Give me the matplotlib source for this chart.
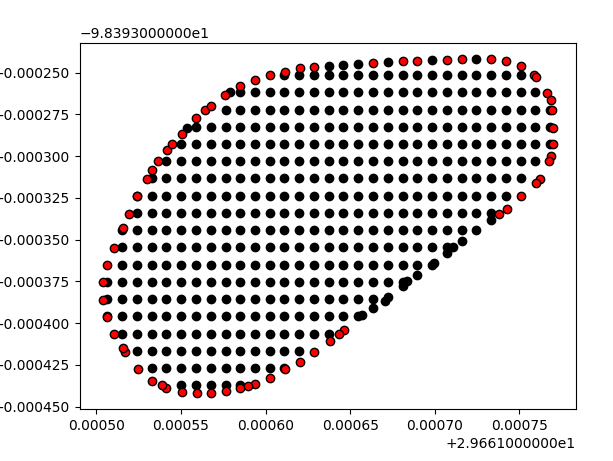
import matplotlib
matplotlib.use("Agg")
import matplotlib.pyplot as plt
from matplotlib.ticker import ScalarFormatter

# base coordinates, offsets below are in micro-degrees
lat0 = 29.661
lon0 = -98.393

# grid columns (lat) and rows (lon) of the inner points
grid_lat = [506.5, 515.2, 523.9, 532.7, 541.4, 550.1, 558.8, 567.5, 576.3, 585.0,
            593.7, 602.4, 611.1, 619.9, 628.6, 637.3, 646.0, 654.7, 663.5, 672.2,
            680.9, 689.6, 698.3, 707.1, 715.8, 724.5, 733.2, 741.9, 750.7, 759.4, 768.1]
grid_lon = [-251.4, -261.7, -272.1, -282.4, -292.7, -303.0, -313.3, -323.7, -334.0, -344.3,
            -354.6, -365.0, -375.3, -385.6, -395.9, -406.3, -416.6, -426.9, -437.2]
row_first = [12, 9, 8, 6, 5, 4, 3, 2, 2, 1, 1, 1, 0, 0, 0, 1, 2, 3, 5]
row_last = [28, 29, 30, 30, 30, 29, 28, 27, 26, 25, 23, 22, 20, 18, 17, 15, 13, 12, 9]

# inner points that sit off the grid
extra_lat = [637.3, 646.0, 654.7, 672.2, 698.3, 724.5, 579.0, 553.4, 733.4, 716.2,
             710.9, 707.3, 699.6, 689.6, 683.3, 681.3, 672.4, 670.4, 663.5, 657.2]
extra_lon = [-245.7, -245.1, -244.5, -243.3, -242.3, -241.9, -261.3, -282.9, -338.3, -350.8,
             -354.4, -357.9, -363.8, -371.3, -374.6, -377.9, -384.6, -386.6, -391.1, -395.4]

# boundary points
edge_lat = [519.0, 523.9, 529.6, 532.6, 536.1, 541.5, 544.4, 550.5, 559.1, 564.4,
            567.5, 576.2, 585.1, 593.7, 602.4, 611.3, 620.4, 628.5, 663.5, 681.0,
            689.6, 707.3, 716.2, 733.4, 742.3, 750.7, 758.9, 759.6, 766.2, 768.5,
            769.5, 770.1, 770.1, 768.5, 767.3, 762.0, 759.7, 751.1, 742.4, 738.1,
            646.3, 643.4, 637.9, 628.7, 620.4, 611.5, 602.3, 593.8, 589.6, 585.1,
            576.5, 567.8, 559.2, 550.3, 541.1, 538.7, 532.6, 524.3, 516.7, 515.4,
            510.6, 506.5, 504.1, 503.6, 506.5, 510.1, 515.4]
edge_lon = [-334.4, -323.7, -313.8, -308.4, -303.2, -296.5, -293.0, -286.5, -277.4, -272.1,
            -269.8, -263.3, -257.7, -254.3, -251.4, -249.5, -247.2, -246.4, -243.9, -242.9,
            -242.9, -242.3, -241.9, -241.9, -242.9, -245.8, -251.4, -252.4, -262.1, -266.2,
            -272.2, -282.9, -293.0, -299.8, -303.2, -313.8, -316.2, -323.9, -331.6, -334.6,
            -404.0, -406.4, -410.9, -417.3, -423.2, -427.8, -432.8, -436.3, -437.5, -439.2,
            -440.5, -441.7, -441.7, -441.1, -438.7, -437.2, -434.5, -427.4, -417.3, -414.9,
            -406.7, -396.5, -386.1, -375.7, -365.4, -354.8, -342.8]


class LongOffsetFormatter(ScalarFormatter):
    # offset written with 10 decimals, like older matplotlib did
    def get_offset(self):
        if not self.offset:
            return ''
        mant, ex = ('%1.10e' % abs(self.offset)).split('e')
        s = '%se%d' % (mant, int(ex))
        return ('+' if self.offset > 0 else '\u2212') + s


inside_x = []
inside_y = []
for i in range(len(grid_lon)):
    for j in range(row_first[i], row_last[i] + 1):
        inside_x.append(lat0 + grid_lat[j] * 1e-6)
        inside_y.append(lon0 + grid_lon[i] * 1e-6)
for a, b in zip(extra_lat, extra_lon):
    inside_x.append(lat0 + a * 1e-6)
    inside_y.append(lon0 + b * 1e-6)

edge_x = [lat0 + a * 1e-6 for a in edge_lat]
edge_y = [lon0 + b * 1e-6 for b in edge_lon]

fig = plt.figure(figsize=(6.13, 4.61), dpi=100)
ax = fig.add_axes([0.1305, 0.1121, 0.8091, 0.7957])
ax.scatter(inside_x, inside_y, c='k')
ax.scatter(edge_x, edge_y, c='r', edgecolors='k')
ax.xaxis.set_major_formatter(LongOffsetFormatter())
ax.yaxis.set_major_formatter(LongOffsetFormatter())
fig.savefig('out.png', dpi=100)
